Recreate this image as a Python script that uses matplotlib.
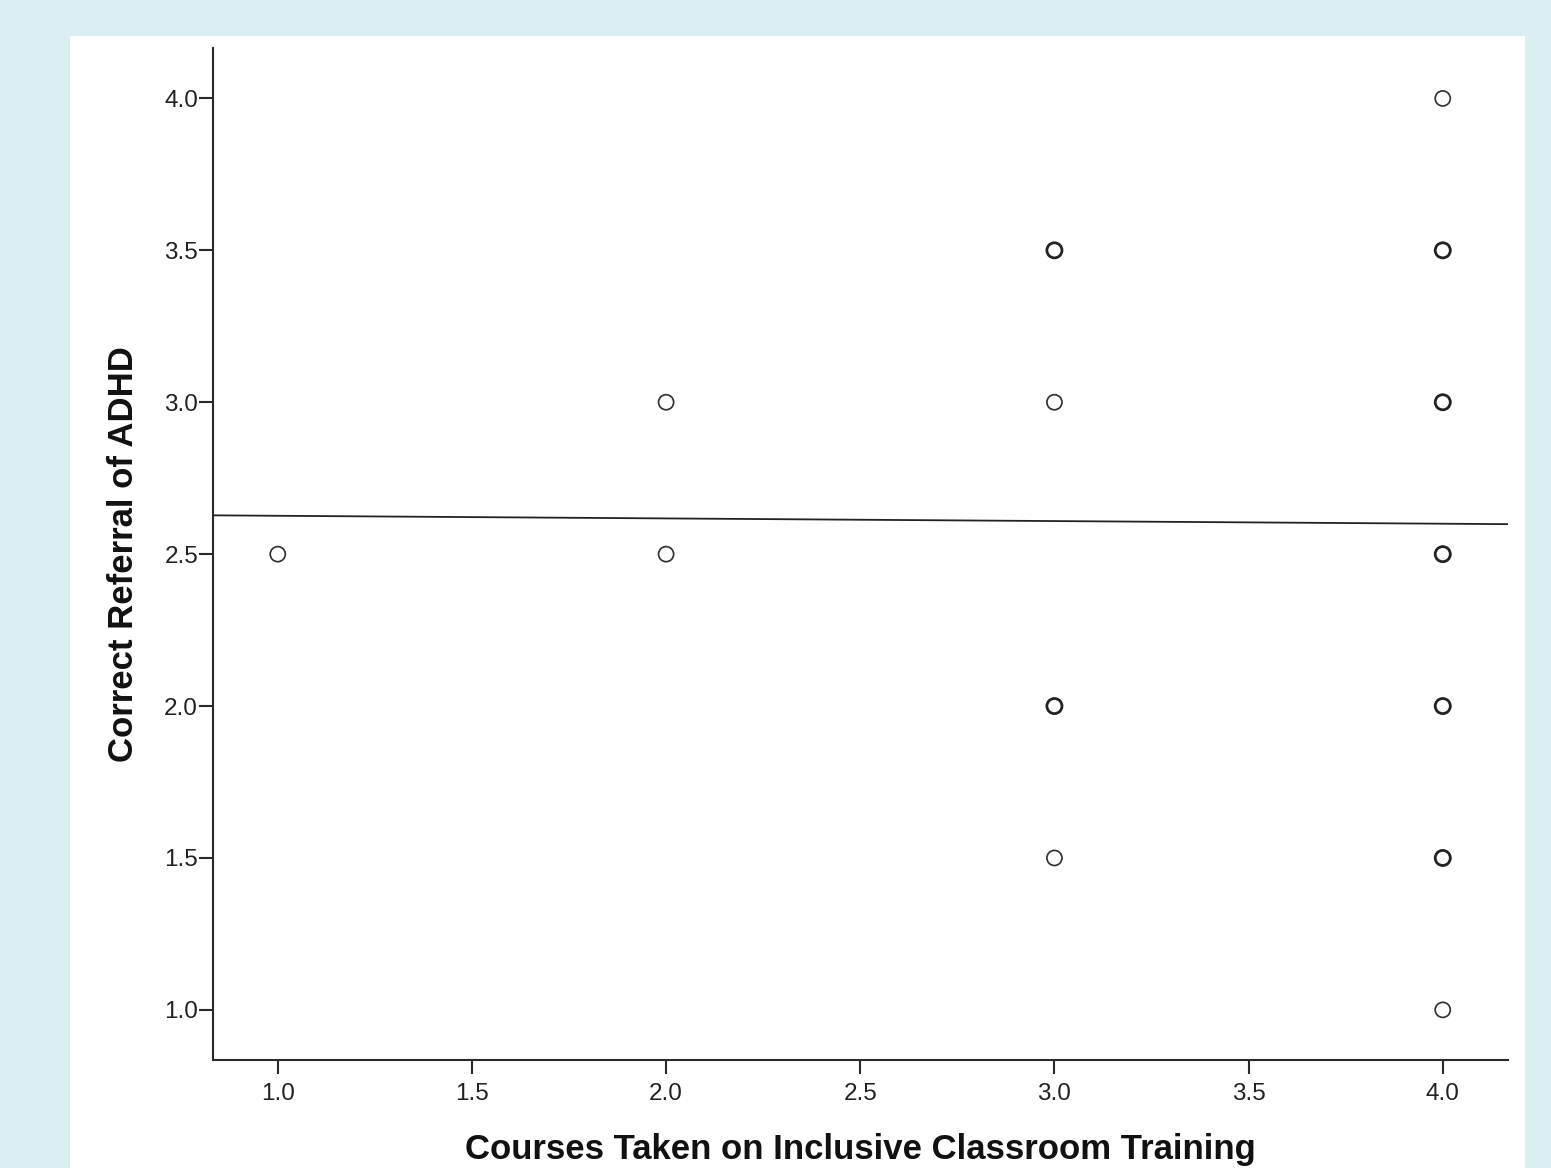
import matplotlib
matplotlib.use("Agg")
import matplotlib.pyplot as plt
from matplotlib.patches import Rectangle

plt.rcParams['font.family'] = ['Liberation Sans', 'DejaVu Sans']

# ---- data ----
courses = [1.0, 2.0, 2.0, 3.0, 3.0, 3.0, 3.0, 4.0, 4.0, 4.0, 4.0, 4.0, 4.0, 4.0]
referral = [2.5, 3.0, 2.5, 3.5, 3.0, 2.0, 1.5, 4.0, 3.5, 3.0, 2.5, 2.0, 1.5, 1.0]
counts = [1, 1, 1, 2, 1, 2, 1, 1, 2, 2, 2, 2, 2, 1]   # overlapping cases drawn bolder
fit_intercept = 2.635
fit_slope = -0.0087
x_ticks = [1.0, 1.5, 2.0, 2.5, 3.0, 3.5, 4.0]
y_ticks = [1.0, 1.5, 2.0, 2.5, 3.0, 3.5, 4.0]
x_label = "Courses Taken on Inclusive Classroom Training"
y_label = "Correct Referral of ADHD"

W, H = 1551, 1168
fig = plt.figure(figsize=(W / 100, H / 100), dpi=100)
fig.patch.set_facecolor('#DBEEF2')
fig.patches.append(Rectangle((70 / W, 0), (1525 - 70) / W, (H - 35.7) / H,
                             transform=fig.transFigure, facecolor='white',
                             edgecolor='none', zorder=-10))

left, right, top, bottom = 213.3, 1508, 48, 1060.3
ax = fig.add_axes([left / W, 1 - bottom / H, (right - left) / W, (bottom - top) / H])
ax.set_zorder(1)
ax.patch.set_alpha(0)

xlim = (0.834, 4.168)
ylim = (0.834, 4.166)
ax.set_xlim(*xlim)
ax.set_ylim(*ylim)

# regression line
ax.plot(list(xlim), [fit_intercept + fit_slope * x for x in xlim],
        color='#222222', lw=1.3, zorder=2, solid_capstyle='butt')

# points
for x, y, c in zip(courses, referral, counts):
    ax.scatter([x], [y], s=118, facecolors='none',
               edgecolors='#222222' if c > 1 else '#333333',
               linewidths=2.0 if c > 1 else 1.25, zorder=3, clip_on=False)

ax.set_xticks(x_ticks)
ax.set_yticks(y_ticks)
ax.set_xticklabels([f"{t:.1f}" for t in x_ticks])
ax.set_yticklabels([f"{t:.1f}" for t in y_ticks])

for s in ['top', 'right']:
    ax.spines[s].set_visible(False)
for s in ['left', 'bottom']:
    ax.spines[s].set_linewidth(1.5)
    ax.spines[s].set_color('#2a2a2a')

ax.tick_params(axis='both', direction='out', length=10, width=1.5, color='#2a2a2a',
               labelsize=17.5, labelcolor='#222222')
ax.tick_params(axis='x', pad=6.5)
ax.tick_params(axis='y', pad=1)

ax.set_xlabel(x_label, fontsize=25, fontweight='bold', color='#111111')
ax.set_ylabel(y_label, fontsize=25, fontweight='bold', color='#111111')
ax.xaxis.set_label_coords(0.5, (bottom - 1149) / (bottom - top))
ax.xaxis.label.set_va('center')
ax.yaxis.set_label_coords((124 - left) / (right - left), 0.5)
ax.yaxis.label.set_va('center')

fig.savefig('out.png', dpi=100, facecolor=fig.get_facecolor())
